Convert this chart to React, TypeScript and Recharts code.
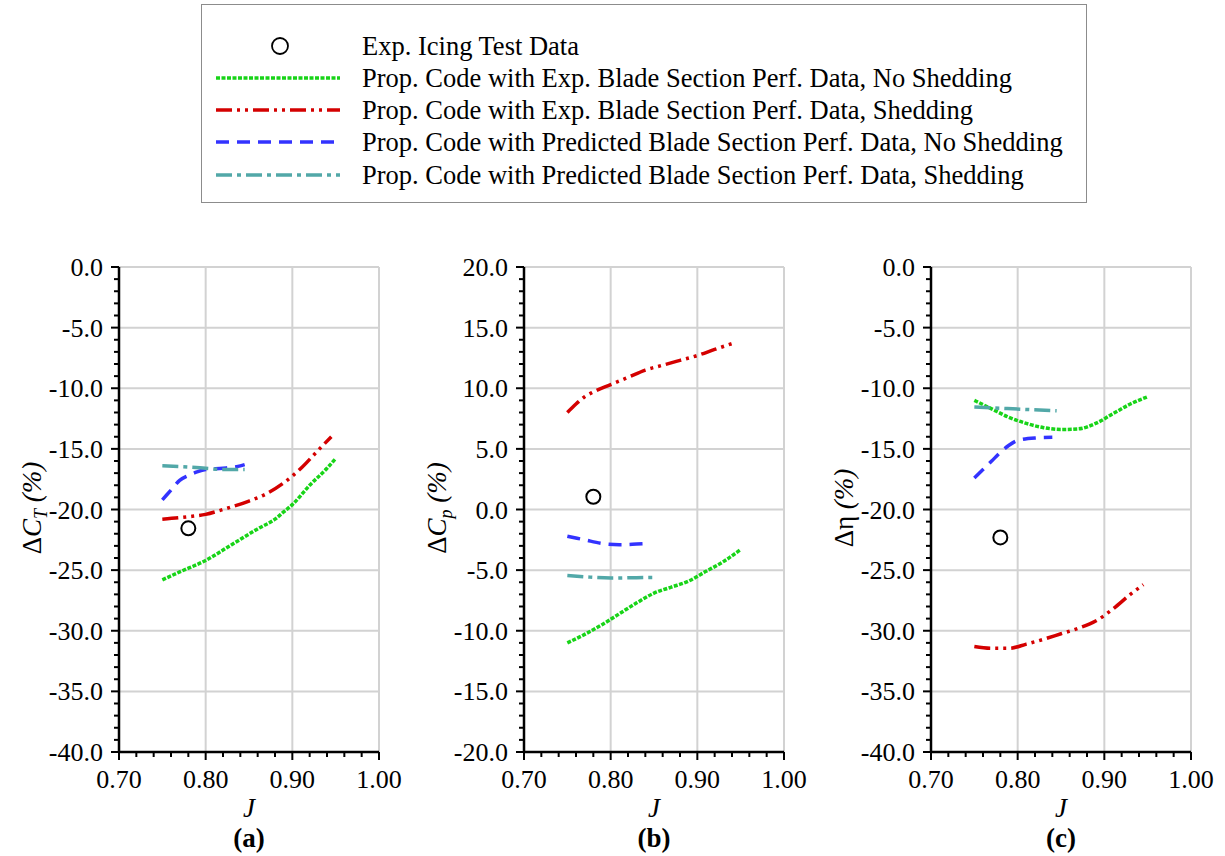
import React from "react";
import { ComposedChart, Line, Scatter, XAxis, YAxis, ReferenceLine } from "recharts";

type Pt = [number, number];

// Axis ticks
const X_MAJOR = [0.7, 0.8, 0.9, 1.0];
const X_ALL = [0.7, 0.72, 0.74, 0.76, 0.78, 0.8, 0.82, 0.84, 0.86, 0.88, 0.9, 0.92, 0.94, 0.96, 0.98, 1.0];
const Y_MAJOR_A = [0, -5, -10, -15, -20, -25, -30, -35, -40];
const Y_MAJOR_B = [20, 15, 10, 5, 0, -5, -10, -15, -20];
const Y_MAJOR_C = [0, -5, -10, -15, -20, -25, -30, -35, -40];

// (a) delta C_T
const A_EXP: Pt[] = [[0.78, -21.55]];
const A_EXP_NOSHED: Pt[] = [[0.75, -25.8], [0.77, -25.15], [0.8, -24.2], [0.83, -22.9], [0.86, -21.6], [0.88, -20.8], [0.89, -20.2], [0.9, -19.6], [0.92, -18.0], [0.94, -16.6], [0.95, -15.8]];
const A_EXP_SHED: Pt[] = [[0.75, -20.8], [0.78, -20.6], [0.8, -20.4], [0.82, -20.0], [0.85, -19.3], [0.87, -18.7], [0.89, -17.8], [0.91, -16.6], [0.93, -15.1], [0.945, -14.0]];
const A_PRED_NOSHED: Pt[] = [[0.75, -19.2], [0.76, -18.4], [0.77, -17.6], [0.78, -17.2], [0.79, -16.9], [0.8, -16.7], [0.82, -16.6], [0.84, -16.4], [0.845, -16.3]];
const A_PRED_SHED: Pt[] = [[0.75, -16.4], [0.78, -16.5], [0.8, -16.6], [0.82, -16.7], [0.845, -16.7]];

// (b) delta C_p
const B_EXP: Pt[] = [[0.78, 1.05]];
const B_EXP_NOSHED: Pt[] = [[0.75, -11.0], [0.77, -10.3], [0.79, -9.5], [0.81, -8.6], [0.83, -7.7], [0.85, -6.9], [0.87, -6.4], [0.89, -5.9], [0.91, -5.1], [0.93, -4.3], [0.95, -3.3]];
const B_EXP_SHED: Pt[] = [[0.75, 8.0], [0.76, 8.7], [0.77, 9.3], [0.78, 9.7], [0.8, 10.3], [0.82, 10.9], [0.84, 11.5], [0.86, 11.9], [0.88, 12.3], [0.9, 12.7], [0.92, 13.2], [0.945, 13.8]];
const B_PRED_NOSHED: Pt[] = [[0.75, -2.2], [0.77, -2.5], [0.79, -2.8], [0.81, -2.9], [0.83, -2.85], [0.845, -2.8]];
const B_PRED_SHED: Pt[] = [[0.75, -5.45], [0.77, -5.55], [0.8, -5.65], [0.83, -5.62], [0.85, -5.6]];

// (c) delta eta
const C_EXP: Pt[] = [[0.78, -22.3]];
const C_EXP_NOSHED: Pt[] = [[0.75, -11.0], [0.77, -11.7], [0.79, -12.4], [0.81, -12.9], [0.83, -13.25], [0.85, -13.4], [0.87, -13.35], [0.89, -12.9], [0.91, -12.1], [0.93, -11.3], [0.95, -10.7]];
const C_EXP_SHED: Pt[] = [[0.75, -31.3], [0.77, -31.45], [0.79, -31.45], [0.81, -31.1], [0.83, -30.7], [0.85, -30.25], [0.87, -29.8], [0.89, -29.2], [0.91, -28.2], [0.93, -27.0], [0.945, -26.2]];
const C_PRED_NOSHED: Pt[] = [[0.75, -17.4], [0.76, -16.7], [0.77, -16.0], [0.78, -15.3], [0.79, -14.7], [0.8, -14.3], [0.82, -14.1], [0.84, -14.05]];
const C_PRED_SHED: Pt[] = [[0.75, -11.55], [0.78, -11.65], [0.81, -11.75], [0.845, -11.85]];

const LEGEND_LABELS = [
  "Exp. Icing Test Data",
  "Prop. Code with Exp. Blade Section Perf. Data, No Shedding",
  "Prop. Code with Exp. Blade Section Perf. Data, Shedding",
  "Prop. Code with Predicted Blade Section Perf. Data, No Shedding",
  "Prop. Code with Predicted Blade Section Perf. Data, Shedding",
];

const FONT = "Liberation Serif";

// line styles: exp/no shed, exp/shed, pred/no shed, pred/shed
const STYLES = [
  { stroke: "#18d418", width: 3.5, dash: "4 1.5" },
  { stroke: "#d40000", width: 3.5, dash: "16 5 3 5 3 5" },
  { stroke: "#3333ff", width: 3.5, dash: "13 8" },
  { stroke: "#52a8a8", width: 3.5, dash: "16 5 4 5" },
];

const rows = (pts: Pt[]) => pts.map(([J, v]) => ({ J, v }));
const near = (list: number[], v: number) => list.some((m) => Math.abs(m - v) < 1e-6);

const XTick = (props: any) => {
  const { x, y, payload } = props;
  const major = near(X_MAJOR, payload.value);
  return (
    <g>
      <line x1={x} x2={x} y1={y} y2={y + (major ? 8 : 5)} stroke="#000" strokeWidth={2} />
      {major && (
        <text x={x} y={y + 36} textAnchor="middle" fontFamily={FONT} fontSize={26} fill="#000">
          {payload.value.toFixed(2)}
        </text>
      )}
    </g>
  );
};

const makeYTick = (majors: number[]) => (props: any) => {
  const { x, y, payload } = props;
  const major = near(majors, payload.value);
  return (
    <g>
      <line x1={x} x2={x - (major ? 8 : 5)} y1={y} y2={y} stroke="#000" strokeWidth={2} />
      {major && (
        <text x={x - 16} y={y + 9} textAnchor="end" fontFamily={FONT} fontSize={26} fill="#000">
          {payload.value.toFixed(1)}
        </text>
      )}
    </g>
  );
};

const ExpDot = (props: any) => (
  <circle cx={props.cx} cy={props.cy} r={7} fill="none" stroke="#000" strokeWidth={2} />
);

type PanelProps = {
  plotLeft: number;
  yMajor: number[];
  exp: Pt[];
  series: Pt[][];
};

function Panel({ plotLeft, yMajor, exp, series }: PanelProps) {
  const top = yMajor[0];
  const bottom = yMajor[yMajor.length - 1];
  const yAll: number[] = [];
  for (let v = top; v >= bottom; v--) yAll.push(v);
  return (
    <div style={{ position: "absolute", left: plotLeft - 100, top: 250 }}>
      <ComposedChart width={392} height={550} margin={{ top: 17, right: 32, bottom: 0, left: 0 }}>
        <XAxis
          dataKey="J"
          type="number"
          domain={[0.7, 1.0]}
          ticks={X_ALL}
          interval={0}
          tickSize={0}
          tickMargin={0}
          tick={XTick}
          height={48}
          axisLine={{ stroke: "#000", strokeWidth: 2.5 }}
          allowDataOverflow
        />
        <YAxis
          type="number"
          domain={[bottom, top]}
          ticks={yAll}
          interval={0}
          tickSize={0}
          tickMargin={0}
          tick={makeYTick(yMajor)}
          width={100}
          axisLine={{ stroke: "#000", strokeWidth: 2.5 }}
          allowDataOverflow
        />
        {X_MAJOR.slice(1).map((v) => (
          <ReferenceLine key={"x" + v} x={v} stroke="#d2d2d2" strokeWidth={2} />
        ))}
        {yMajor.slice(0, -1).map((v) => (
          <ReferenceLine key={"y" + v} y={v} stroke="#d2d2d2" strokeWidth={2} />
        ))}
        {series.map((s, i) => (
          <Line
            key={i}
            data={rows(s)}
            dataKey="v"
            type="monotone"
            stroke={STYLES[i].stroke}
            strokeWidth={STYLES[i].width}
            strokeDasharray={STYLES[i].dash}
            dot={false}
            activeDot={false}
            isAnimationActive={false}
          />
        ))}
        <Scatter data={rows(exp)} dataKey="v" shape={ExpDot} isAnimationActive={false} />
      </ComposedChart>
    </div>
  );
}

function Legend() {
  const ys = [46, 78, 110, 142, 175];
  return (
    <svg style={{ position: "absolute", left: 201, top: 4 }} width={887} height={200}>
      <rect x={0.5} y={0.5} width={885} height={198} fill="#fff" stroke="#8c8c8c" strokeWidth={1} />
      {ys.map((cy, i) => {
        const y = cy - 4;
        return (
          <g key={i}>
            {i === 0 ? (
              <circle cx={79} cy={y} r={8} fill="none" stroke="#000" strokeWidth={1.8} />
            ) : (
              <line
                x1={15}
                x2={139}
                y1={y}
                y2={y}
                stroke={STYLES[i - 1].stroke}
                strokeWidth={STYLES[i - 1].width}
                strokeDasharray={STYLES[i - 1].dash}
              />
            )}
            <text x={161} y={y + 9} fontFamily={FONT} fontSize={26.5} fill="#000">
              {LEGEND_LABELS[i]}
            </text>
          </g>
        );
      })}
    </svg>
  );
}

function Titles() {
  const panels = [
    { left: 119, cap: "(a)", kind: "T" },
    { left: 524, cap: "(b)", kind: "p" },
    { left: 931, cap: "(c)", kind: "eta" },
  ];
  return (
    <svg style={{ position: "absolute", left: 0, top: 0, pointerEvents: "none" }} width={1225} height={856}>
      {panels.map((p) => {
        const cx = p.left + 130;
        const lx = p.left - 78;
        return (
          <g key={p.cap} fontFamily={FONT} fontSize={27} fill="#000">
            <text x={cx} y={817} textAnchor="middle" fontStyle="italic">J</text>
            <text x={cx} y={847} textAnchor="middle" fontWeight="bold">{p.cap}</text>
            <text transform={`translate(${lx},508) rotate(-90)`} textAnchor="middle">
              {p.kind === "eta" ? (
                <>
                  <tspan>Δη </tspan>
                  <tspan fontStyle="italic">(%)</tspan>
                </>
              ) : (
                <>
                  <tspan>Δ</tspan>
                  <tspan fontStyle="italic">C</tspan>
                  <tspan fontStyle="italic" fontSize={18} dy={6}>{p.kind}</tspan>
                  <tspan fontStyle="italic" dy={-6}> (%)</tspan>
                </>
              )}
            </text>
          </g>
        );
      })}
    </svg>
  );
}

export default function App() {
  return (
    <div style={{ position: "absolute", left: 0, top: 0, width: 1225, height: 856, background: "#fff", fontFamily: FONT }}>
      <Legend />
      <Panel plotLeft={119} yMajor={Y_MAJOR_A} exp={A_EXP} series={[A_EXP_NOSHED, A_EXP_SHED, A_PRED_NOSHED, A_PRED_SHED]} />
      <Panel plotLeft={524} yMajor={Y_MAJOR_B} exp={B_EXP} series={[B_EXP_NOSHED, B_EXP_SHED, B_PRED_NOSHED, B_PRED_SHED]} />
      <Panel plotLeft={931} yMajor={Y_MAJOR_C} exp={C_EXP} series={[C_EXP_NOSHED, C_EXP_SHED, C_PRED_NOSHED, C_PRED_SHED]} />
      <Titles />
    </div>
  );
}
